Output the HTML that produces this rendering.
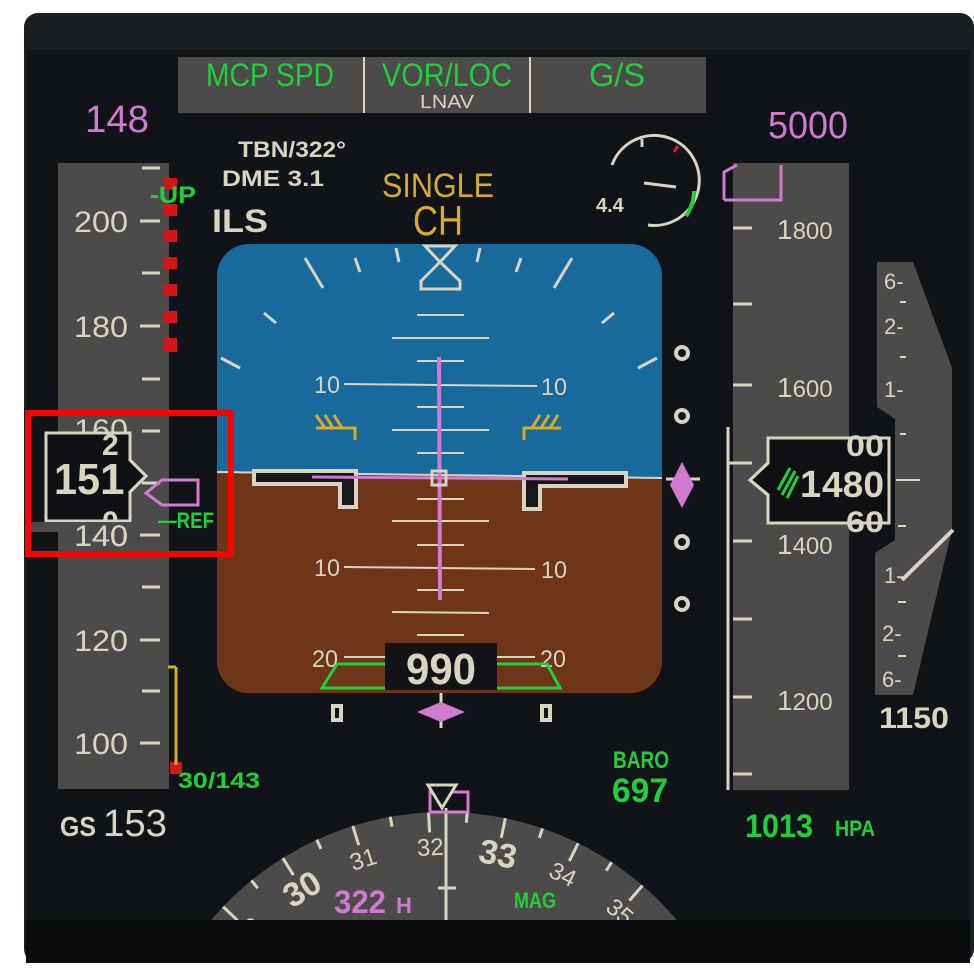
<!DOCTYPE html>
<html><head><meta charset="utf-8"><style>
html,body{margin:0;padding:0;background:#fff;overflow:hidden;}
svg{display:block;}
text{font-family:"Liberation Sans Narrow","Liberation Sans",sans-serif;}
</style></head><body>
<svg width="974" height="973" viewBox="0 0 974 973" xmlns="http://www.w3.org/2000/svg">
<rect x="0" y="0" width="974" height="973" fill="#fff"/>
<rect x="24" y="13" width="950" height="950" rx="14" fill="#1b1e23"/>
<rect x="26" y="50" width="944" height="870" fill="#101317"/>
<rect x="26" y="920" width="944" height="43" fill="#0a0b0d"/>

<!-- FMA -->
<rect x="178" y="57" width="528" height="56" fill="#4d4a4a"/>
<line x1="364" y1="57" x2="364" y2="113" stroke="#d8d4c0" stroke-width="2"/>
<line x1="530" y1="57" x2="530" y2="113" stroke="#d8d4c0" stroke-width="2"/>
<g fill="#1ed13a" font-size="32" text-anchor="middle">
<text x="270" y="86" textLength="128" lengthAdjust="spacingAndGlyphs">MCP SPD</text>
<text x="447" y="86" textLength="130" lengthAdjust="spacingAndGlyphs">VOR/LOC</text>
<text x="617" y="86" textLength="56" lengthAdjust="spacingAndGlyphs">G/S</text>
</g>
<text x="447" y="108" fill="#d8d4c0" font-size="18" text-anchor="middle" textLength="54" lengthAdjust="spacingAndGlyphs">LNAV</text>

<text x="117" y="132" fill="#d07ad0" font-size="38" text-anchor="middle" textLength="64" lengthAdjust="spacingAndGlyphs">148</text>
<text x="808" y="138" fill="#d07ad0" font-size="38" text-anchor="middle" textLength="80" lengthAdjust="spacingAndGlyphs">5000</text>

<g fill="#d8d4c0" font-weight="bold">
<text x="238" y="157" font-size="22" textLength="108" lengthAdjust="spacingAndGlyphs">TBN/322°</text>
<text x="222" y="186" font-size="22" textLength="102" lengthAdjust="spacingAndGlyphs">DME 3.1</text>
<text x="212" y="232" font-size="32" textLength="56" lengthAdjust="spacingAndGlyphs">ILS</text>
</g>
<text x="438" y="197" fill="#d8aa28" font-size="34" text-anchor="middle" textLength="112" lengthAdjust="spacingAndGlyphs">SINGLE</text>
<text x="438" y="235" fill="#d8aa28" font-size="42" text-anchor="middle" textLength="50" lengthAdjust="spacingAndGlyphs">CH</text>

<!-- radio alt dial -->
<path d="M612,165 A45,45 0 1 1 648,225" fill="none" stroke="#d8d4c0" stroke-width="3"/>
<line x1="642" y1="139" x2="642" y2="147" stroke="#d8d4c0" stroke-width="3"/>
<line x1="678" y1="146" x2="674" y2="152" stroke="#d02020" stroke-width="3"/>
<line x1="644" y1="183" x2="676" y2="187" stroke="#d8d4c0" stroke-width="3"/>
<path d="M694,191 A45,45 0 0 1 686,216" fill="none" stroke="#1ed13a" stroke-width="4"/>
<text x="596" y="212" fill="#d8d4c0" font-size="20" font-weight="bold">4.4</text>

<!-- speed tape -->
<rect x="58" y="163" width="111" height="626" fill="#4d4a4a"/>
<g stroke="#d8d4c0" stroke-width="3">
<line x1="142" y1="168" x2="160" y2="168"/><line x1="140" y1="221" x2="160" y2="221"/>
<line x1="142" y1="273" x2="160" y2="273"/><line x1="140" y1="326" x2="160" y2="326"/>
<line x1="142" y1="379" x2="160" y2="379"/><line x1="142" y1="431" x2="160" y2="431"/>
<line x1="142" y1="483" x2="160" y2="483"/><line x1="140" y1="535" x2="160" y2="535"/>
<line x1="142" y1="587" x2="160" y2="587"/><line x1="140" y1="640" x2="160" y2="640"/>
<line x1="142" y1="691" x2="160" y2="691"/><line x1="140" y1="743" x2="160" y2="743"/>
</g>
<g fill="#d8d4c0" font-size="30" text-anchor="end">
<text x="128" y="232" textLength="54" lengthAdjust="spacingAndGlyphs">200</text><text x="128" y="337" textLength="54" lengthAdjust="spacingAndGlyphs">180</text><text x="128" y="440" textLength="54" lengthAdjust="spacingAndGlyphs">160</text>
<text x="128" y="546" textLength="54" lengthAdjust="spacingAndGlyphs">140</text><text x="128" y="651" textLength="54" lengthAdjust="spacingAndGlyphs">120</text><text x="128" y="754" textLength="54" lengthAdjust="spacingAndGlyphs">100</text>
</g>
<g fill="#d01818">
<rect x="163" y="178" width="14" height="12"/><rect x="163" y="204" width="14" height="12"/>
<rect x="163" y="230" width="14" height="12"/><rect x="163" y="257" width="14" height="12"/>
<rect x="163" y="284" width="14" height="12"/><rect x="163" y="311" width="14" height="12"/>
<rect x="163" y="338" width="14" height="14"/>
<rect x="170" y="762" width="12" height="12"/>
</g>
<text x="150" y="203" fill="#1ed13a" font-size="24" font-weight="bold" textLength="46" lengthAdjust="spacingAndGlyphs">-UP</text>
<line x1="176" y1="667" x2="176" y2="765" stroke="#d8aa28" stroke-width="3"/>
<line x1="168" y1="667" x2="176" y2="667" stroke="#d8aa28" stroke-width="3"/>
<text x="178" y="788" fill="#1ed13a" font-size="22" font-weight="bold" textLength="82" lengthAdjust="spacingAndGlyphs">30/143</text>
<text x="158" y="528" fill="#1ed13a" font-size="22" font-weight="bold" textLength="56" lengthAdjust="spacingAndGlyphs">—REF</text>
<path d="M146,493 L162,480 L198,480 L198,505 L162,505 Z" fill="none" stroke="#d07ad0" stroke-width="3"/>
<!-- speed readout -->
<path d="M46,433 L130,433 L130,460 L146,476 L130,492 L130,521 L46,521 Z" fill="#0e1013" stroke="#d8d4c0" stroke-width="3"/>
<text x="54" y="494" fill="#d8d4c0" font-size="44" font-weight="bold" textLength="46" lengthAdjust="spacingAndGlyphs">15</text>
<text x="100" y="494" fill="#d8d4c0" font-size="44" font-weight="bold">1</text>
<text x="102" y="455" fill="#d8d4c0" font-size="30" font-weight="bold">2</text>
<text x="102" y="532" fill="#d8d4c0" font-size="30" font-weight="bold">0</text>
<path d="M46,433 L130,433 L130,460 L146,476 L130,492 L130,521 L46,521 Z" fill="none" stroke="#d8d4c0" stroke-width="3"/>
<rect x="28" y="522" width="110" height="10" fill="#4d4a4a"/>
<text x="128" y="546" fill="#d8d4c0" font-size="30" text-anchor="end" textLength="54" lengthAdjust="spacingAndGlyphs">140</text>
<text x="60" y="836" fill="#d8d4c0" font-size="28" font-weight="bold" textLength="36" lengthAdjust="spacingAndGlyphs">GS</text>
<text x="103" y="836" fill="#d8d4c0" font-size="38" textLength="64" lengthAdjust="spacingAndGlyphs">153</text>

<!-- attitude -->
<clipPath id="adi"><rect x="217" y="244" width="445" height="449" rx="32"/></clipPath>
<g clip-path="url(#adi)">
<rect x="217" y="244" width="445" height="449" fill="#186a9c"/>
<polygon points="217,472 662,478 662,693 217,693" fill="#6e3519"/>
<line x1="217" y1="472" x2="662" y2="478" stroke="#d8d4c0" stroke-width="2"/>
</g>
<g stroke="#d8d4c0" stroke-width="3">
<line x1="305" y1="258" x2="323" y2="288"/><line x1="355" y1="258" x2="360" y2="272"/>
<line x1="396" y1="248" x2="399" y2="262"/><line x1="480" y1="248" x2="477" y2="262"/>
<line x1="521" y1="258" x2="516" y2="272"/><line x1="572" y1="258" x2="554" y2="288"/>
<line x1="264" y1="313" x2="276" y2="323"/><line x1="614" y1="313" x2="602" y2="323"/>
<line x1="221" y1="358" x2="240" y2="368"/><line x1="657" y1="358" x2="638" y2="368"/>
<polygon points="425,246 455,246 440,262" fill="none"/>
<polygon points="440,262 421,281 421,289 460,289 460,281" fill="none"/>
<g stroke-width="2">
<line x1="417" y1="315" x2="464" y2="315"/><line x1="392" y1="338" x2="489" y2="338"/>
<line x1="417" y1="361" x2="464" y2="361"/><line x1="344" y1="384" x2="537" y2="386"/>
<line x1="417" y1="407" x2="464" y2="407"/><line x1="392" y1="430" x2="489" y2="430"/>
<line x1="417" y1="453" x2="464" y2="453"/><line x1="417" y1="499" x2="464" y2="499"/>
<line x1="392" y1="521" x2="489" y2="521"/><line x1="417" y1="545" x2="464" y2="545"/>
<line x1="344" y1="567" x2="535" y2="569"/><line x1="417" y1="590" x2="464" y2="590"/>
<line x1="392" y1="612" x2="489" y2="613"/><line x1="417" y1="635" x2="464" y2="635"/>
<line x1="344" y1="657" x2="386" y2="657"/><line x1="497" y1="657" x2="535" y2="657"/>
</g>
</g>
<g fill="#d8d4c0" font-size="24">
<text x="314" y="393" textLength="26" lengthAdjust="spacingAndGlyphs">10</text><text x="541" y="395" textLength="26" lengthAdjust="spacingAndGlyphs">10</text>
<text x="314" y="576" textLength="26" lengthAdjust="spacingAndGlyphs">10</text><text x="541" y="578" textLength="26" lengthAdjust="spacingAndGlyphs">10</text>
<text x="312" y="667" textLength="26" lengthAdjust="spacingAndGlyphs">20</text><text x="540" y="667" textLength="26" lengthAdjust="spacingAndGlyphs">20</text>
</g>
<g stroke="#d8aa28" stroke-width="3" fill="none">
<path d="M316,415 L325,428 M325,415 L333,428 M334,415 L342,428 M316,428 L355,428 L355,440"/>
<path d="M558,415 L550,428 M549,415 L541,428 M540,415 L532,428 M561,428 L524,428 L524,440"/>
</g>
<path d="M254,471 L356,471 L356,507 L340,507 L340,484 L254,484 Z" fill="#16181b" stroke="#d8d4c0" stroke-width="4"/>
<path d="M626,473 L524,473 L524,509 L540,509 L540,486 L626,486 Z" fill="#16181b" stroke="#d8d4c0" stroke-width="4"/>
<line x1="312" y1="477" x2="568" y2="479" stroke="#d07ad0" stroke-width="3"/>
<line x1="439" y1="357" x2="440" y2="600" stroke="#d07ad0" stroke-width="4"/>
<rect x="432" y="471" width="14" height="14" fill="none" stroke="#d8d4c0" stroke-width="3"/>
<path d="M385,664 L337,664 L322,688 L385,688" fill="none" stroke="#1ed13a" stroke-width="3"/>
<path d="M497,664 L547,664 L560,688 L497,688" fill="none" stroke="#1ed13a" stroke-width="3"/>
<rect x="385" y="643" width="112" height="47" fill="#111316"/>
<text x="441" y="684" fill="#d8d4c0" font-size="44" font-weight="bold" text-anchor="middle" textLength="70" lengthAdjust="spacingAndGlyphs">990</text>
<g fill="none" stroke="#d8d4c0" stroke-width="4">
<circle cx="682" cy="353" r="6"/><circle cx="682" cy="416" r="6"/>
<circle cx="682" cy="542" r="6"/><circle cx="682" cy="604" r="6"/>
<rect x="333" y="706" width="8" height="14"/><rect x="542" y="706" width="8" height="14"/>
</g>
<line x1="666" y1="479" x2="700" y2="479" stroke="#d8d4c0" stroke-width="3"/>
<polygon points="682,462 694,485 682,508 670,485" fill="#d07ad0"/>
<line x1="441" y1="693" x2="441" y2="728" stroke="#d8d4c0" stroke-width="3"/>
<polygon points="417,712 441,702 465,712 441,722" fill="#d07ad0"/>

<text x="613" y="768" fill="#1ed13a" font-size="24" font-weight="bold" textLength="56" lengthAdjust="spacingAndGlyphs">BARO</text>
<text x="612" y="802" fill="#1ed13a" font-size="34" font-weight="bold" textLength="56" lengthAdjust="spacingAndGlyphs">697</text>

<!-- altitude tape -->
<rect x="733" y="163" width="116" height="627" fill="#4d4a4a"/>
<path d="M724,200 L724,172 L737,165 M724,200 L781,200 L781,165" fill="none" stroke="#d07ad0" stroke-width="3"/>
<line x1="728" y1="427" x2="728" y2="790" stroke="#d8d4c0" stroke-width="3"/>
<g stroke="#d8d4c0" stroke-width="3">
<line x1="733" y1="228" x2="752" y2="228"/><line x1="733" y1="304" x2="752" y2="304"/>
<line x1="733" y1="385" x2="752" y2="385"/><line x1="728" y1="463" x2="752" y2="463"/>
<line x1="733" y1="541" x2="752" y2="541"/><line x1="733" y1="619" x2="752" y2="619"/>
<line x1="733" y1="697" x2="752" y2="697"/><line x1="733" y1="774" x2="752" y2="774"/>
</g>
<g fill="#d8d4c0" font-size="28">
<text x="777" y="239">1<tspan font-size="24">800</tspan></text>
<text x="777" y="397">1<tspan font-size="24">600</tspan></text>
<text x="777" y="554">1<tspan font-size="24">400</tspan></text>
<text x="777" y="710">1<tspan font-size="24">200</tspan></text>
</g>
<!-- VSI -->
<polygon points="877,262 913,262 952,368 952,530 913,695 875,695 875,553 895,540 895,419 877,407" fill="#4d4a4a"/>
<g fill="#d8d4c0" font-size="22">
<text x="884" y="289">6-</text><text x="884" y="334">2-</text><text x="884" y="397">1-</text>
<text x="884" y="583">1-</text><text x="882" y="641">2-</text><text x="882" y="687">6-</text>
</g>
<g stroke="#d8d4c0" stroke-width="2">
<line x1="900" y1="302" x2="906" y2="302"/><line x1="900" y1="357" x2="906" y2="357"/>
<line x1="900" y1="434" x2="906" y2="434"/><line x1="898" y1="526" x2="906" y2="526"/>
<line x1="898" y1="602" x2="906" y2="602"/><line x1="898" y1="656" x2="906" y2="656"/>
<line x1="896" y1="480" x2="920" y2="480"/>
</g>
<line x1="902" y1="580" x2="953" y2="530" stroke="#d8d4c0" stroke-width="4"/>
<text x="914" y="728" fill="#d8d4c0" font-size="30" font-weight="bold" text-anchor="middle" textLength="70" lengthAdjust="spacingAndGlyphs">1150</text>
<!-- alt readout -->
<path d="M768,438 L889,438 L889,523 L768,523 L768,495 L750,480 L768,463 Z" fill="#0e1013" stroke="#d8d4c0" stroke-width="3"/>
<g stroke="#1ed13a" stroke-width="3">
<line x1="778" y1="490" x2="790" y2="468"/><line x1="782" y1="495" x2="795" y2="471"/><line x1="787" y1="498" x2="798" y2="476"/>
</g>
<text x="800" y="497" fill="#d8d4c0" font-size="38" font-weight="bold">1</text>
<text x="822" y="497" fill="#d8d4c0" font-size="36" font-weight="bold" textLength="62" lengthAdjust="spacingAndGlyphs">480</text>
<text x="846" y="456" fill="#d8d4c0" font-size="30" font-weight="bold" textLength="38" lengthAdjust="spacingAndGlyphs">00</text>
<text x="846" y="532" fill="#d8d4c0" font-size="30" font-weight="bold" textLength="38" lengthAdjust="spacingAndGlyphs">60</text>
<path d="M768,438 L889,438 L889,523 L768,523 L768,495 L750,480 L768,463 Z" fill="none" stroke="#d8d4c0" stroke-width="3"/>
<rect x="760" y="525" width="80" height="10" fill="#4d4a4a"/>
<text x="745" y="837" fill="#1ed13a" font-size="32" font-weight="bold" textLength="68" lengthAdjust="spacingAndGlyphs">1013</text>
<text x="835" y="836" fill="#1ed13a" font-size="22" font-weight="bold" textLength="40" lengthAdjust="spacingAndGlyphs">HPA</text>

<!-- compass -->
<clipPath id="cc"><rect x="0" y="0" width="974" height="920"/></clipPath>
<g clip-path="url(#cc)">
<circle cx="444" cy="1117" r="305" fill="#4d4a4a"/>
<g stroke="#d8d4c0" stroke-width="3">
<g transform="rotate(-46.4 444 1117)"><line x1="444" y1="812" x2="444" y2="832"/></g>
<g transform="rotate(-39.15 444 1117)"><line x1="444" y1="812" x2="444" y2="822"/></g>
<g transform="rotate(-31.9 444 1117)"><line x1="444" y1="812" x2="444" y2="832"/></g>
<g transform="rotate(-24.65 444 1117)"><line x1="444" y1="812" x2="444" y2="822"/></g>
<g transform="rotate(-17.4 444 1117)"><line x1="444" y1="812" x2="444" y2="832"/></g>
<g transform="rotate(-10.15 444 1117)"><line x1="444" y1="812" x2="444" y2="822"/></g>
<g transform="rotate(-2.9 444 1117)"><line x1="444" y1="812" x2="444" y2="832"/></g>
<g transform="rotate(4.35 444 1117)"><line x1="444" y1="812" x2="444" y2="822"/></g>
<g transform="rotate(11.6 444 1117)"><line x1="444" y1="812" x2="444" y2="832"/></g>
<g transform="rotate(18.85 444 1117)"><line x1="444" y1="812" x2="444" y2="822"/></g>
<g transform="rotate(26.1 444 1117)"><line x1="444" y1="812" x2="444" y2="832"/></g>
<g transform="rotate(33.35 444 1117)"><line x1="444" y1="812" x2="444" y2="822"/></g>
<g transform="rotate(40.6 444 1117)"><line x1="444" y1="812" x2="444" y2="832"/></g>
</g>
<g fill="#d8d4c0" font-size="24" text-anchor="middle">
<text transform="rotate(-2.9 444 1117)" x="444" y="855">32</text>
<text transform="rotate(-17.4 444 1117)" x="444" y="855">31</text>
<text transform="rotate(-31.9 444 1117)" x="444" y="860" font-size="34" font-weight="bold">30</text>
<text transform="rotate(-46.4 444 1117)" x="444" y="855">29</text>
<text transform="rotate(11.6 444 1117)" x="444" y="860" font-size="34" font-weight="bold">33</text>
<text transform="rotate(26.1 444 1117)" x="444" y="855">34</text>
<text transform="rotate(40.6 444 1117)" x="444" y="855">35</text>
</g>
</g>
<line x1="446" y1="808" x2="446" y2="920" stroke="#d8d4c0" stroke-width="3"/>
<line x1="438" y1="888" x2="456" y2="888" stroke="#d8d4c0" stroke-width="3"/>
<path d="M430,812 L430,792 L468,792 L468,812 Z" fill="none" stroke="#d07ad0" stroke-width="3"/>
<polygon points="428,785 456,785 442,808" fill="#101317" stroke="#d8d4c0" stroke-width="3"/>
<text x="334" y="913" fill="#d07ad0" font-size="32" font-weight="bold" textLength="52" lengthAdjust="spacingAndGlyphs">322</text>
<text x="396" y="913" fill="#d07ad0" font-size="22" font-weight="bold">H</text>
<text x="514" y="908" fill="#1ed13a" font-size="22" font-weight="bold" textLength="42" lengthAdjust="spacingAndGlyphs">MAG</text>

<rect x="28" y="413" width="203" height="141" fill="none" stroke="#ff0000" stroke-width="6"/>
</svg>
</body></html>
